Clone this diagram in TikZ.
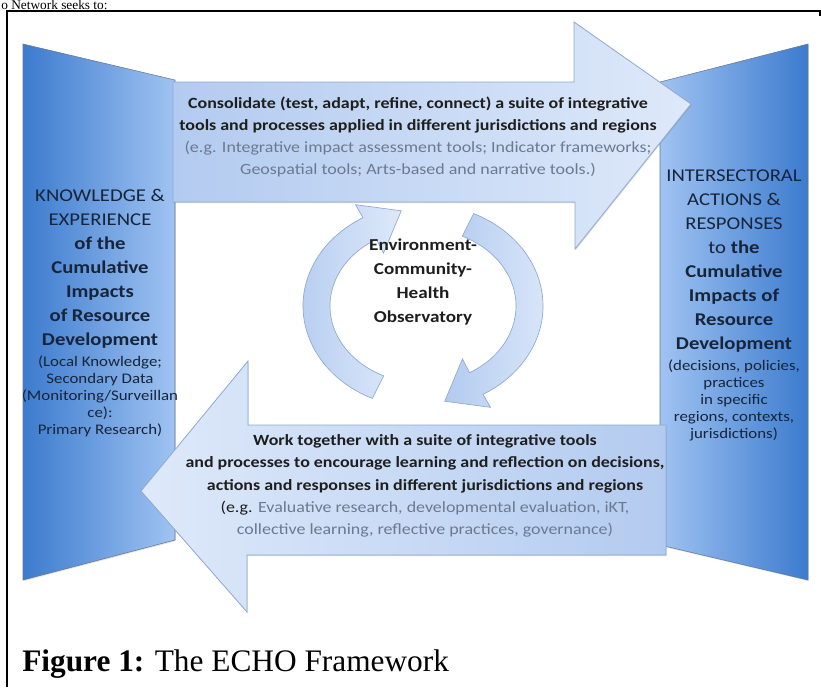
\documentclass[tikz,border=0pt]{standalone}
\usepackage{fontspec}
\setmainfont[FakeStretch=1.15]{Carlito}
\newfontfamily\capfont{Liberation Serif}
\usepackage{xcolor}
\definecolor{PanelDark}{HTML}{3C7BCE}
\definecolor{PanelLight}{HTML}{A0C3F2}
\definecolor{ArrowA}{HTML}{B3CBF0}
\definecolor{ArrowB}{HTML}{DEE9FA}
\definecolor{Edge}{HTML}{8EA9CF}
\definecolor{Ink}{HTML}{1E1E1E}
\definecolor{Navy}{HTML}{17243A}
\definecolor{Slate}{HTML}{6B7A90}
\usetikzlibrary{shadows}
\tikzset{
  panel/.style={draw=Edge!70!black,line width=0.4pt,
    drop shadow={shadow xshift=0.5pt,shadow yshift=-0.8pt,opacity=0.25}},
  bigarrow/.style={draw=Edge,line width=0.6pt,
    drop shadow={shadow xshift=0.5pt,shadow yshift=-0.8pt,opacity=0.3}},
  cyc/.style={draw=Edge,line width=0.5pt,left color=ArrowA,right color=ArrowB},
  arrowtext/.style={align=center,font=\fontsize{11.7}{16.7}\selectfont,text=Ink,inner sep=0pt},
  paneltext/.style={align=center,font=\fontsize{13.5}{12.75}\selectfont,text=Navy,inner sep=0pt},
  hubtext/.style={align=center,font=\fontsize{12.5}{18}\selectfont\bfseries,text=Ink,inner sep=0pt}
}

\begin{document}
\begin{tikzpicture}[x=0.75pt,y=-0.75pt]
  \useasboundingbox (0,0) rectangle (821,687);
  % page frame and the text line above it
  \node[anchor=base west,inner sep=0pt,font=\capfont\fontsize{10}{12}\selectfont] (prev) at (1,9) {o Network seeks to:};
  \draw[line width=1.5pt] (7,687) -- (7,11) -- (820,11) -- (820,16);

  % side panels
  \path[panel,left color=PanelDark,right color=PanelLight] (23,44) -- (175,80) -- (175,540) -- (23,580) -- cycle;
  \path[panel,left color=PanelLight,right color=PanelDark] (660,82) -- (808,44) -- (808,580) -- (660,545) -- cycle;

  % the two wide arrows
  \path[bigarrow,left color=ArrowA,right color=ArrowB] (173,82) -- (574,82) -- (574,22) -- (691,104)
    -- (575,249) -- (575,202) -- (173,202) -- cycle;
  \path[bigarrow,left color=ArrowB,right color=ArrowA] (666,425) -- (248,425) -- (248,361) -- (141,491)
    -- (247,612) -- (247,555) -- (666,555) -- cycle;

  % cycle in the middle
  \begin{scope}[shift={(423,306)},yscale=-1]
    \path[cyc] (245:120 and 102) arc[start angle=245,end angle=120,x radius=120,y radius=102]
      -- (120:135 and 117) -- (101:114 and 97) -- (120:79 and 61) -- (120:93 and 77)
      arc[start angle=120,end angle=245,x radius=93,y radius=77] -- cycle;
    \path[cyc,rotate=180] (245:120 and 102) arc[start angle=245,end angle=120,x radius=120,y radius=102]
      -- (120:135 and 117) -- (101:114 and 97) -- (120:79 and 61) -- (120:93 and 77)
      arc[start angle=120,end angle=245,x radius=93,y radius=77] -- cycle;
  \end{scope}
  \node[hubtext] (hub) at (423,282) {Environment-\\Community-\\Health\\Observatory};

  \node[arrowtext] (consolidate) at (418,137) {\textbf{Consolidate (test, adapt, refine, connect) a suite of integrative}\\
    \textbf{tools and processes applied in different jurisdictions and regions}\\
    \textcolor{Slate}{(e.g. Integrative impact assessment tools; Indicator frameworks;}\\
    \textcolor{Slate}{Geospatial tools; Arts-based and narrative tools.)}};
  \node[arrowtext] (worktogether) at (425,486) {\textbf{Work together with a suite of integrative tools}\\
    \textbf{and processes to encourage learning and reflection on decisions,}\\
    \textbf{actions and responses in different jurisdictions and regions}\\
    (e.g. \textcolor{Slate}{Evaluative research, developmental evaluation, iKT,}\\
    \textcolor{Slate}{collective learning, reflective practices, governance)}};

  \node[paneltext] (knowledge) at (100,313) {KNOWLEDGE \&\\[5.25pt] EXPERIENCE\\[5.25pt] \textbf{of the}\\[5.25pt]
    \textbf{Cumulative}\\[5.25pt] \textbf{Impacts}\\[5.25pt] \textbf{of Resource}\\[5.25pt] \textbf{Development}\\[3pt]
    {\fontsize{11}{12.75}\selectfont (Local Knowledge;}\\ {\fontsize{11}{12.75}\selectfont Secondary Data}\\
    {\fontsize{11}{12.75}\selectfont (Monitoring/Surveillan}\\ {\fontsize{11}{12.75}\selectfont ce):}\\
    {\fontsize{11}{12.75}\selectfont Primary Research)}};
  \node[paneltext] (actions) at (734,305) {INTERSECTORAL\\[5.25pt] ACTIONS \&\\[5.25pt] RESPONSES\\[5.25pt] to \textbf{the}\\[5.25pt]
    \textbf{Cumulative}\\[5.25pt] \textbf{Impacts of}\\[5.25pt] \textbf{Resource}\\[5.25pt] \textbf{Development}\\[3pt]
    {\fontsize{11}{12.75}\selectfont (decisions, policies,}\\ {\fontsize{11}{12.75}\selectfont practices}\\
    {\fontsize{11}{12.75}\selectfont in specific}\\ {\fontsize{11}{12.75}\selectfont regions, contexts,}\\
    {\fontsize{11}{12.75}\selectfont jurisdictions)}};

  \node[anchor=base west,inner sep=0pt,font=\capfont\fontsize{23.5}{28}\selectfont] (caption) at (22,671)
    {\textbf{Figure 1:} The ECHO Framework};
\end{tikzpicture}
\end{document}
